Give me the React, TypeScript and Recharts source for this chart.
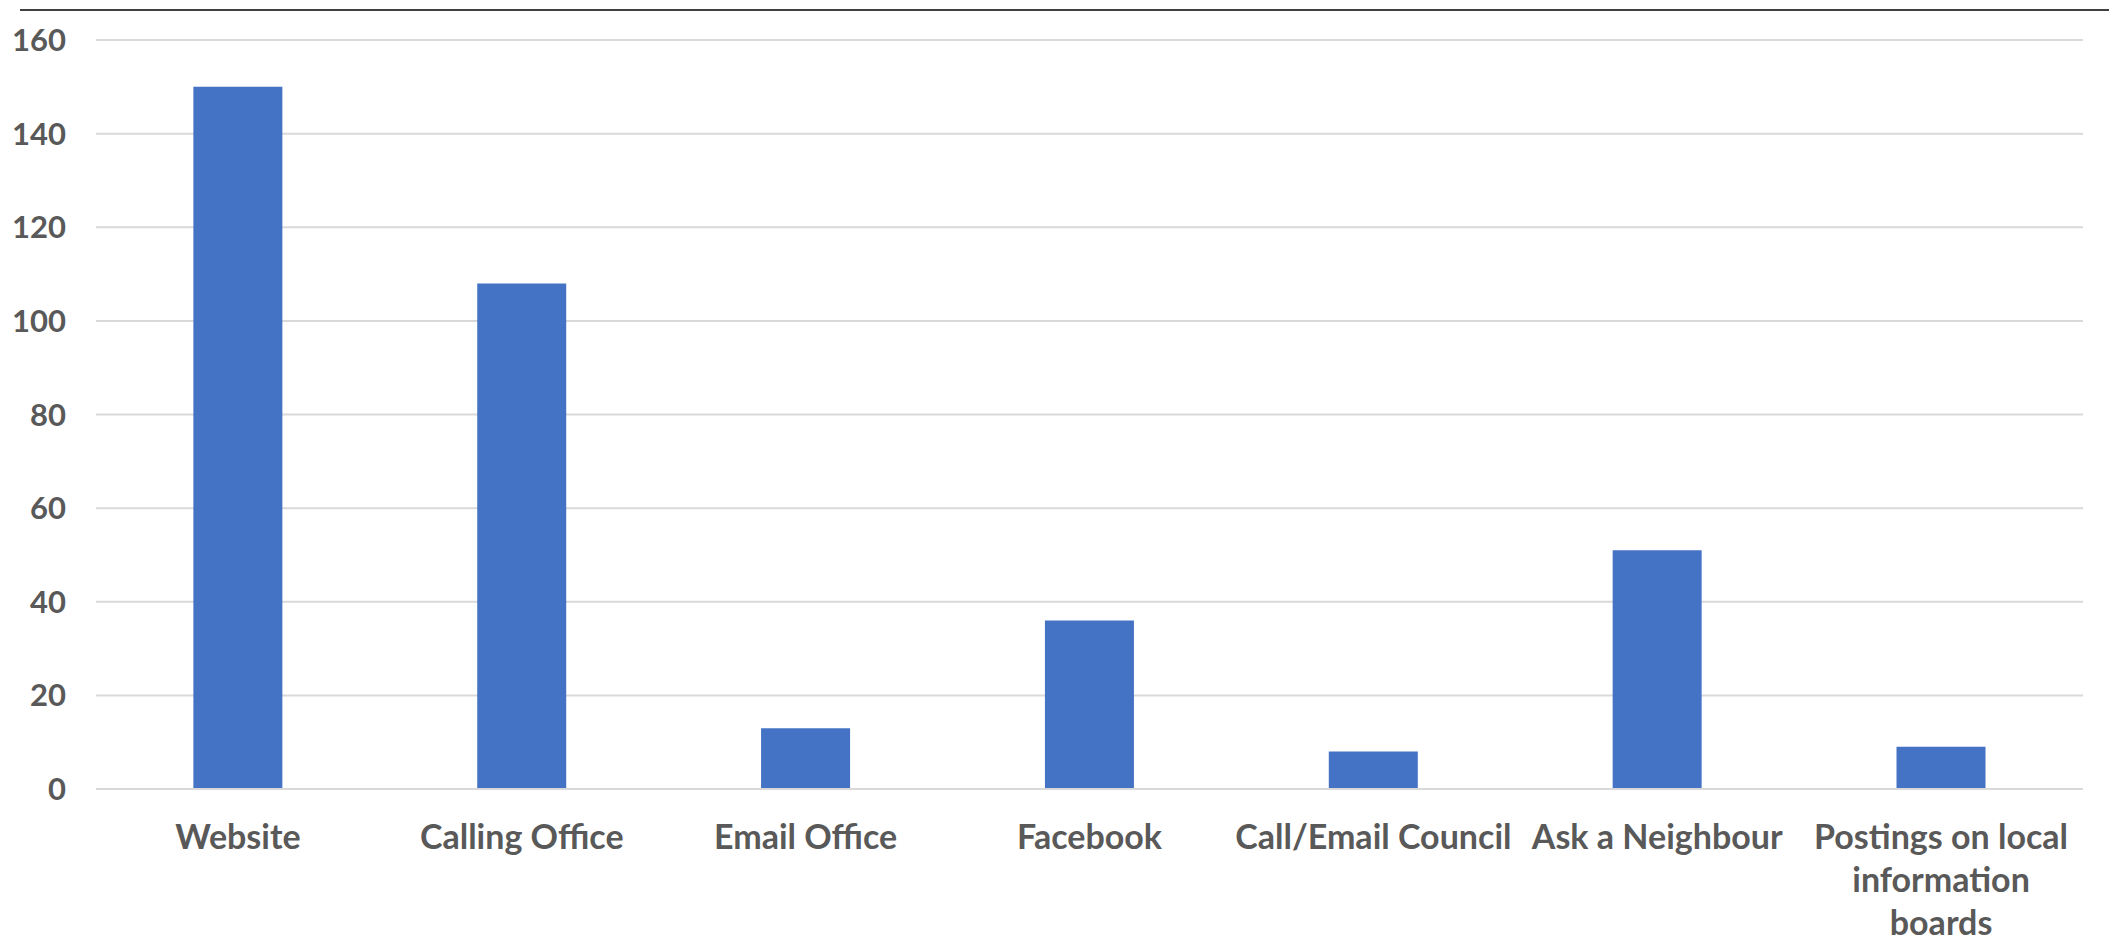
import { BarChart, Bar, XAxis, YAxis, CartesianGrid } from 'recharts';

const categories = [
  'Website',
  'Calling Office',
  'Email Office',
  'Facebook',
  'Call/Email Council',
  'Ask a Neighbour',
  'Postings on local\ninformation\nboards',
];
const responses = [150, 108, 13, 36, 8, 51, 9];
const yTicks = [0, 20, 40, 60, 80, 100, 120, 140, 160];

const data = categories.map((name, i) => ({ name, value: responses[i] }));

const FONT = 'Lato, "Open Sans", sans-serif';
const TEXT_COLOR = '#595959';

function CategoryTick({ x, y, payload }: any) {
  const lines = String(payload.value).split('\n');
  return (
    <text
      x={x}
      y={y}
      textAnchor="middle"
      fill={TEXT_COLOR}
      fontSize={34}
      fontWeight={700}
      fontFamily={FONT}
    >
      {lines.map((line, i) => (
        <tspan key={i} x={x} dy={i === 0 ? 52 : 43}>
          {line}
        </tspan>
      ))}
    </text>
  );
}

export default function App() {
  return (
    <div style={{ position: 'absolute', left: 0, top: 0, width: 2109, height: 944, background: '#fff' }}>
      {/* dark rule along the top edge */}
      <div style={{ position: 'absolute', left: 20, top: 9, width: 2089, height: 2, background: '#404040' }} />
      <BarChart
        width={2109}
        height={944}
        data={data}
        margin={{ top: 40, right: 26, left: 0, bottom: 0 }}
        barCategoryGap="34.3%"
      >
        <CartesianGrid vertical={false} stroke="#D9D9D9" strokeWidth={2} />
        <XAxis
          dataKey="name"
          height={155}
          interval={0}
          tickLine={false}
          axisLine={{ stroke: '#D9D9D9', strokeWidth: 2 }}
          tick={<CategoryTick />}
        />
        <YAxis
          width={96}
          domain={[0, 160]}
          ticks={yTicks}
          interval={0}
          axisLine={false}
          tickLine={false}
          tickMargin={24}
          tick={{ fill: TEXT_COLOR, fontSize: 31, fontWeight: 700, fontFamily: FONT }}
        />
        <Bar dataKey="value" fill="#4472C4" isAnimationActive={false} />
      </BarChart>
    </div>
  );
}
